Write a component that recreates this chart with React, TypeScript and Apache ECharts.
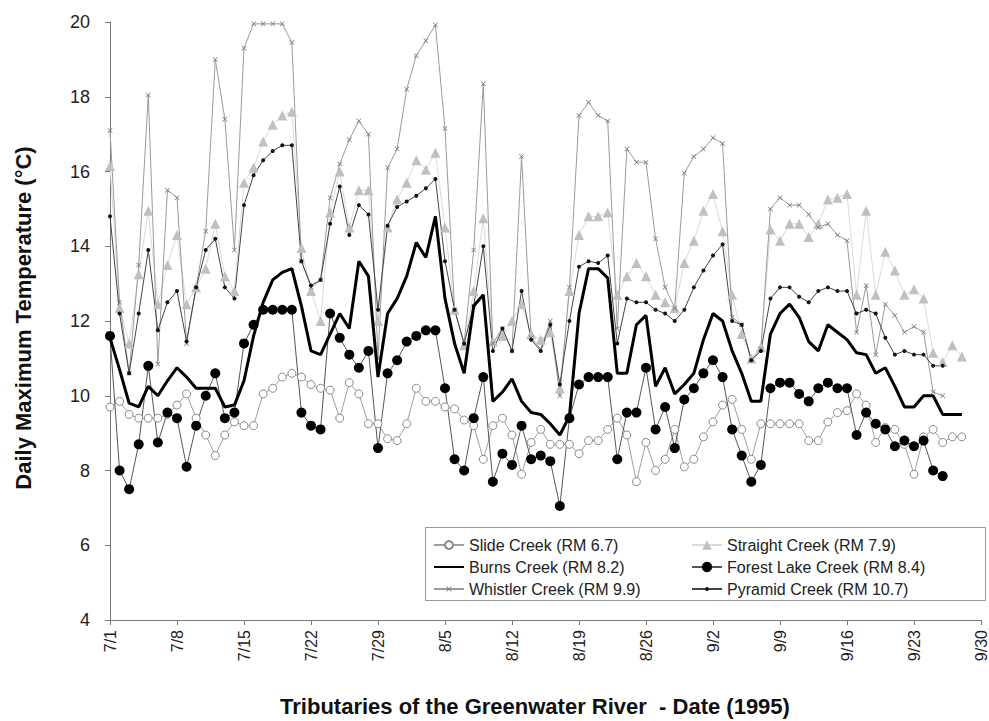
import React, { useEffect, useRef } from "react";
import * as echarts from "echarts";

const monthDays: [number, number][] = [[7, 31], [8, 31], [9, 30]];
const dates: string[] = [];
monthDays.forEach(([m, n]) => {
  for (let d = 1; d <= n; d++) dates.push(`${m}/${d}`);
});

const yTicks = [4, 6, 8, 10, 12, 14, 16, 18, 20];

const slide = [
  9.7, 9.85, 9.5, 9.4, 9.4, 9.4, 9.5, 9.75, 10.05, 9.4,
  8.95, 8.4, 8.95, 9.3, 9.2, 9.2, 10.05, 10.2, 10.5, 10.6,
  10.5, 10.3, 10.2, 10.15, 9.4, 10.35, 10.05, 9.25, 9.25, 8.85,
  8.8, 9.25, 10.2, 9.85, 9.85, 9.7, 9.65, 9.35, 9.2, 8.3,
  9.2, 9.4, 8.95, 7.9, 8.75, 9.1, 8.7, 8.7, 8.7, 8.45,
  8.8, 8.8, 9.1, 9.4, 8.95, 7.7, 8.75, 8.0, 8.3, 9.1,
  8.1, 8.3, 8.9, 9.3, 9.75, 9.9, 9.1, 8.3, 9.25, 9.25,
  9.25, 9.25, 9.25, 8.8, 8.8, 9.3, 9.55, 9.6, 10.05, 9.75,
  8.75, 9.15, 9.1, 8.7, 7.9, 8.9, 9.1, 8.75, 8.9, 8.9,
];

const straight = [
  16.15, 12.35, 11.4, 13.25, 14.95, 12.45, 13.5, 14.3, 12.45, 12.9,
  13.4, 14.6, 13.2, 12.8, 15.7, 16.1, 16.8, 17.25, 17.5, 17.6,
  13.95, 12.8, 12.0, 14.9, 16.0, 14.5, 15.5, 15.5, 12.0, 14.5,
  15.25, 15.7, 16.3, 16.05, 16.5, 14.5, 12.3, 11.35, 12.8, 14.75,
  11.45, 11.6, 12.0, 12.45, 11.65, 11.5, 11.7, 10.2, 12.8, 14.3,
  14.8, 14.8, 14.9, 12.7, 13.2, 13.55, 13.2, 12.7, 12.5, 12.35,
  13.55, 14.15, 14.95, 15.4, 14.4, 12.7, 11.65, 11.0, 11.3, 14.45,
  14.15, 14.6, 14.6, 14.25, 14.6, 15.25, 15.3, 15.4, 12.7, 14.95,
  12.7, 13.85, 13.35, 12.7, 12.85, 12.6, 11.15, 10.9, 11.35, 11.05,
];

const burns = [
  11.55, 10.7, 9.8, 9.7, 10.25, 10.0, 10.4, 10.75, 10.5, 10.2,
  10.2, 10.2, 9.7, 9.75, 10.4, 11.6, 12.5, 13.1, 13.3, 13.4,
  12.4, 11.2, 11.1, 11.65, 12.2, 11.8, 13.6, 13.2, 10.5, 12.2,
  12.6, 13.2, 14.1, 13.7, 14.8, 12.6, 11.4, 10.6, 12.4, 12.7,
  9.85, 10.1, 10.45, 9.85, 9.55, 9.5, 9.25, 8.95, 9.45, 12.2,
  13.4, 13.4, 13.15, 10.6, 10.6, 11.9, 12.15, 10.25, 10.75, 10.05,
  10.3, 10.6, 11.5, 12.2, 12.0, 11.2, 10.6, 9.85, 9.85, 11.65,
  12.2, 12.45, 12.1, 11.45, 11.2, 11.9, 11.7, 11.5, 11.15, 11.1,
  10.6, 10.75, 10.25, 9.7, 9.7, 10.0, 10.0, 9.5, 9.5, 9.5,
];

const forestLake = [
  11.6, 8.0, 7.5, 8.7, 10.8, 8.75, 9.55, 9.4, 8.1, 9.2,
  10.0, 10.6, 9.4, 9.55, 11.4, 11.9, 12.3, 12.3, 12.3, 12.3,
  9.55, 9.2, 9.1, 12.2, 11.55, 11.1, 10.75, 11.2, 8.6, 10.6,
  10.95, 11.45, 11.6, 11.75, 11.75, 10.2, 8.3, 8.0, 9.4, 10.5,
  7.7, 8.45, 8.15, 9.2, 8.3, 8.4, 8.25, 7.05, 9.4, 10.3,
  10.5, 10.5, 10.5, 8.3, 9.55, 9.55, 10.75, 9.1, 9.7, 8.6,
  9.9, 10.2, 10.6, 10.95, 10.5, 9.1, 8.4, 7.7, 8.15, 10.2,
  10.35, 10.35, 10.05, 9.85, 10.2, 10.35, 10.2, 10.2, 8.95, 9.55,
  9.25, 9.1, 8.65, 8.8, 8.65, 8.8, 8.0, 7.85,
];

const whistler = [
  17.1, 12.5, 10.6, 13.5, 18.05, 10.85, 15.5, 15.3, 11.4, 12.9,
  14.4, 19.0, 17.4, 13.9, 19.3, 19.95, 19.95, 19.95, 19.95, 19.45,
  13.6, 12.9, 13.1, 15.3, 16.2, 16.85, 17.35, 17.0, 11.0, 16.1,
  16.6, 18.2, 19.1, 19.5, 19.92, 17.15, 12.3, 11.4, 13.9, 18.35,
  11.4, 11.8, 11.2, 16.4, 11.55, 11.25, 12.0, 10.0, 12.9, 17.5,
  17.85, 17.5, 17.35, 11.8, 16.6, 16.25, 16.25, 14.2, 12.9, 12.35,
  15.95, 16.4, 16.6, 16.9, 16.75, 12.1, 11.9, 10.95, 11.25, 15.0,
  15.3, 15.1, 15.1, 14.85, 14.5, 14.6, 14.3, 14.15, 11.7, 12.95,
  11.1, 12.45, 12.15, 11.7, 11.85, 11.7, 10.1, 10.0,
];

const pyramid = [
  14.8, 12.2, 10.6, 12.2, 13.9, 11.75, 12.5, 12.8, 11.45, 12.9,
  13.9, 14.2, 12.9, 12.6, 15.1, 15.9, 16.3, 16.55, 16.7, 16.7,
  13.6, 12.95, 13.1, 14.6, 15.6, 14.3, 15.1, 14.85, 12.3, 14.55,
  15.05, 15.2, 15.35, 15.55, 15.8, 13.6, 12.3, 11.4, 12.4, 14.0,
  11.2, 11.8, 11.2, 12.8, 11.5, 11.2, 11.9, 10.3, 12.0, 13.45,
  13.6, 13.55, 13.75, 11.4, 12.6, 12.5, 12.5, 12.3, 12.2, 12.0,
  12.3, 12.9, 13.35, 13.75, 14.05, 12.0, 11.9, 10.95, 11.2, 12.6,
  12.9, 12.9, 12.65, 12.5, 12.8, 12.9, 12.8, 12.8, 12.2, 12.3,
  12.2, 11.55, 11.1, 11.2, 11.1, 11.1, 10.8, 10.8,
];

const names = [
  "Slide Creek (RM 6.7)",
  "Straight Creek (RM 7.9)",
  "Burns Creek (RM 8.2)",
  "Forest Lake Creek (RM 8.4)",
  "Whistler Creek (RM 9.9)",
  "Pyramid Creek (RM 10.7)",
];

const xTitle = "Tributaries of the Greenwater River  - Date (1995)";
const yTitle = "Daily Maximum Temperature (°C)";

const FONT = "'Liberation Sans', Arial, sans-serif";
const XMARK = "path://M0,1L1,0L5,4L9,0L10,1L6,5L10,9L9,10L5,6L1,10L0,9L4,5Z";

// legend layout: [column left, row center y, icon height]
const legendLayout: [number, number, number][] = [
  [433, 545, 10],
  [691, 545, 12],
  [433, 567, 12],
  [691, 567, 13],
  [433, 589, 7],
  [691, 589, 5],
];

export default function App() {
  const ref = useRef<HTMLDivElement>(null);
  useEffect(() => {
    if (!ref.current) return;
    const chart = echarts.init(ref.current, null, { renderer: "svg" });
    const legendText = { fontSize: 16, lineHeight: 16, color: "#222", fontFamily: FONT };
    chart.setOption({
      animation: false,
      backgroundColor: "#fff",
      textStyle: { fontFamily: FONT },
      grid: { left: 110, right: 7, top: 22, bottom: 101, containLabel: false },
      xAxis: {
        type: "category",
        data: dates,
        boundaryGap: false,
        axisLine: { lineStyle: { color: "#777", width: 1 } },
        axisTick: { interval: 6, length: 5, lineStyle: { color: "#777" } },
        axisLabel: { interval: 6, rotate: 90, fontSize: 16, color: "#222", margin: 10 },
        splitLine: { show: false },
      },
      yAxis: {
        type: "value",
        min: yTicks[0],
        max: yTicks[yTicks.length - 1],
        interval: 2,
        axisLine: { show: true, lineStyle: { color: "#777", width: 1 } },
        axisTick: { show: true, length: 5, lineStyle: { color: "#777" } },
        axisLabel: { fontSize: 18, color: "#222", margin: 20 },
        splitLine: { show: false },
      },
      legend: names.map((n, i) => ({
        orient: "vertical",
        left: legendLayout[i][0],
        top: legendLayout[i][1] - 8,
        itemWidth: 30,
        itemHeight: legendLayout[i][2],
        itemGap: 0,
        padding: 0,
        textStyle: legendText,
        data: [n],
      })),
      graphic: [
        {
          type: "rect",
          z: 1,
          shape: { x: 425.5, y: 527.5, width: 560, height: 73 },
          style: { fill: "#fff", stroke: "#999", lineWidth: 1 },
        },
        {
          type: "text",
          x: 535,
          y: 706,
          style: {
            text: xTitle,
            fontSize: 22,
            fontWeight: "bold",
            fontFamily: FONT,
            fill: "#111",
            align: "center",
            verticalAlign: "middle",
          },
        },
        {
          type: "text",
          x: 23,
          y: 318,
          rotation: Math.PI / 2,
          style: {
            text: yTitle,
            fontSize: 22,
            fontWeight: "bold",
            fontFamily: FONT,
            fill: "#111",
            align: "center",
            verticalAlign: "middle",
          },
        },
      ],
      series: [
        {
          name: names[0],
          type: "line",
          data: slide,
          symbol: "circle",
          symbolSize: 8,
          showAllSymbol: true,
          lineStyle: { color: "#a0a0a0", width: 1 },
          itemStyle: { color: "#fff", borderColor: "#8a8a8a", borderWidth: 1 },
          z: 3,
        },
        {
          name: names[1],
          type: "line",
          data: straight,
          symbol: "triangle",
          symbolSize: 10,
          showAllSymbol: true,
          lineStyle: { color: "#dadada", width: 1 },
          itemStyle: { color: "#c0c0c0" },
          z: 3,
        },
        {
          name: names[2],
          type: "line",
          data: burns,
          symbol: "none",
          lineStyle: { color: "#000", width: 3 },
          itemStyle: { color: "rgba(0,0,0,0)" },
          z: 4,
        },
        {
          name: names[3],
          type: "line",
          data: forestLake,
          symbol: "circle",
          symbolSize: 10,
          showAllSymbol: true,
          lineStyle: { color: "#555", width: 1 },
          itemStyle: { color: "#000" },
          z: 3,
        },
        {
          name: names[4],
          type: "line",
          data: whistler,
          symbol: XMARK,
          symbolSize: 5,
          showAllSymbol: true,
          lineStyle: { color: "#9a9a9a", width: 1 },
          itemStyle: { color: "#777" },
          z: 3,
        },
        {
          name: names[5],
          type: "line",
          data: pyramid,
          symbol: "circle",
          symbolSize: 4,
          showAllSymbol: true,
          lineStyle: { color: "#444", width: 1 },
          itemStyle: { color: "#111" },
          z: 3,
        },
      ],
    });
    return () => chart.dispose();
  }, []);
  return (
    <div
      ref={ref}
      style={{ position: "fixed", left: 0, top: 0, width: 989, height: 721 }}
    />
  );
}
